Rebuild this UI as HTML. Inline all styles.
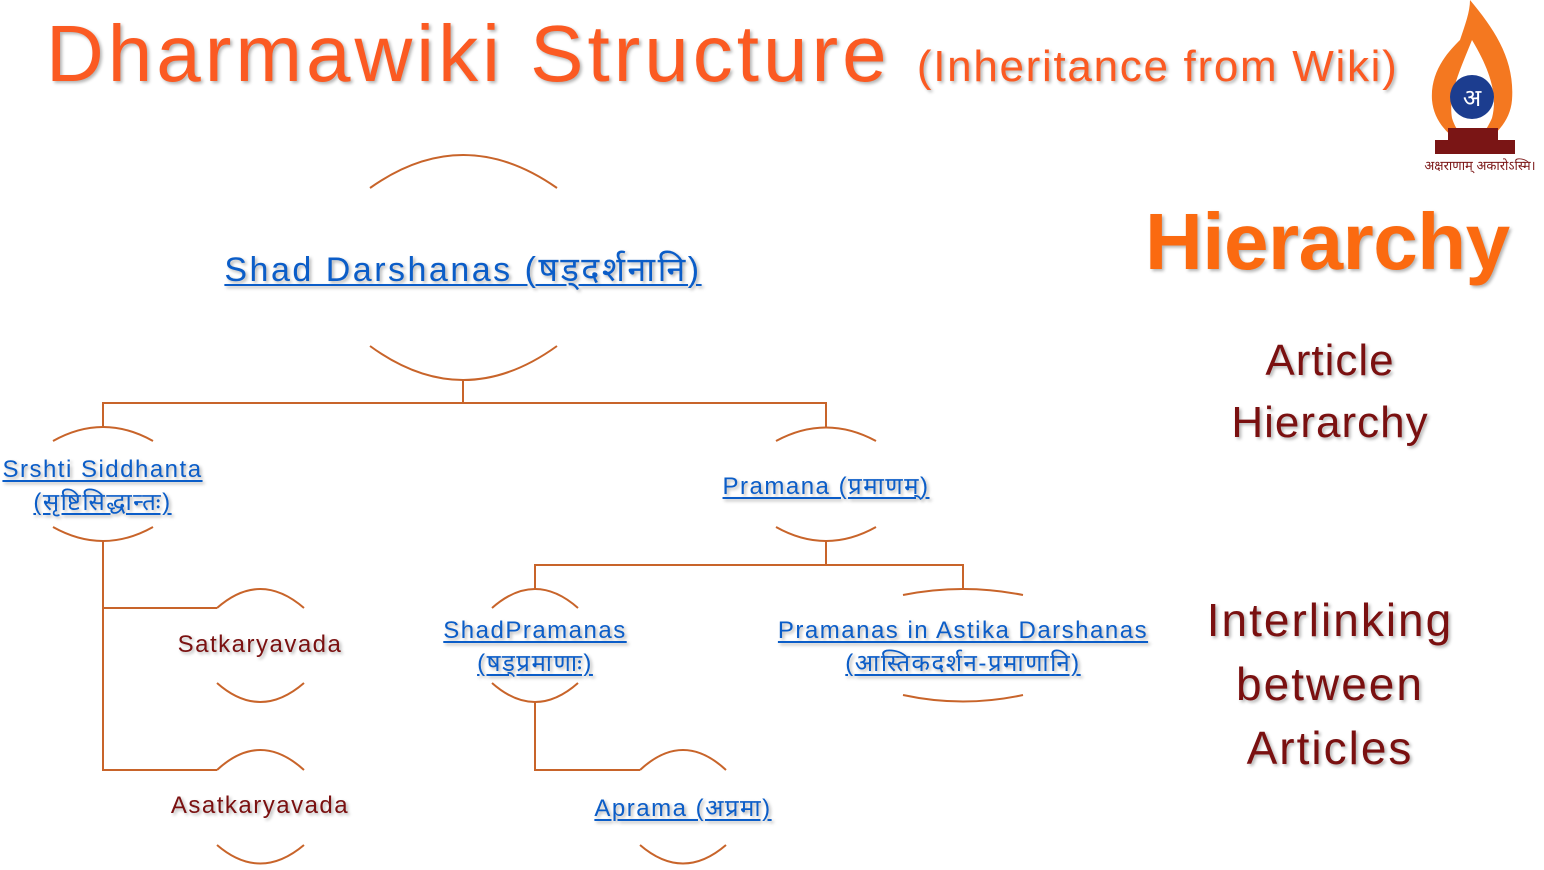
<!DOCTYPE html>
<html><head><meta charset="utf-8"><style>
body{margin:0;width:1544px;height:870px;background:#fff;overflow:hidden;position:relative;font-family:"Liberation Sans","Noto Sans CJK SC",sans-serif}
.t{position:absolute;white-space:nowrap;text-shadow:2px 2px 3px rgba(0,0,0,0.3)}
.l{color:#0b5dc8;text-decoration:underline;text-decoration-thickness:2px;text-underline-offset:3px;font-size:24px;text-align:center;letter-spacing:1.5px}
.r{color:#7a1010;text-align:center}
</style></head><body>
<div class="t" style="left:46px;top:8px;font-size:80px;color:#fb5a22;letter-spacing:4px">Dharmawiki Structure <span style="font-size:44px;letter-spacing:1.7px">(Inheritance from Wiki)</span></div>
<div class="t" style="left:1145px;top:196px;font-size:80px;font-weight:bold;color:#fb6a10;letter-spacing:-0.5px">Hierarchy</div>
<div class="t r" style="left:1200px;top:330px;width:260px;font-size:44px;line-height:62px;letter-spacing:1px">Article<br>Hierarchy</div>
<div class="t r" style="left:1180px;top:588px;width:300px;font-size:46px;line-height:64px;letter-spacing:2px">Interlinking<br>between<br>Articles</div>
<svg style="position:absolute;left:1420px;top:0" width="124" height="180">
<path d="M50 0 C75 30 95 60 92 100 C90 125 70 140 52 150 C34 140 14 125 12 100 C10 70 30 50 40 40 C45 25 50 12 50 0Z" fill="#f47820"/>
<path d="M52 40 C70 70 78 95 72 118 C66 132 58 140 52 144 C46 140 36 132 32 118 C28 95 40 70 52 40Z" fill="#fff"/>
<circle cx="52" cy="97" r="22" fill="#1c3d8f"/>
<text x="52" y="106" fill="#fff" font-size="24" text-anchor="middle" font-family="Noto Sans CJK SC,sans-serif">अ</text>
<rect x="28" y="128" width="50" height="12" fill="#7a1515"/>
<rect x="15" y="140" width="80" height="14" fill="#7a1515"/>
<text x="60" y="170" fill="#7a1515" font-size="13" text-anchor="middle" font-family="sans-serif">अक्षराणाम् अकारोऽस्मि।</text>
</svg>
<svg style="position:absolute;left:0;top:0" width="1544" height="870" fill="none" stroke="#c8642a" stroke-width="2">
<path d="M370 188 Q463 122 557 188"/><path d="M370 346 Q463 414 557 346"/>
<path d="M463 380 V403 M103 428 V403 H826 V428"/>
<path d="M53 441 Q103 413 153 441"/><path d="M53 527 Q103 555 153 527"/>
<path d="M103 541 V770 H217 M103 608 H217"/>
<path d="M217 608 Q260 570 304 608"/><path d="M217 683 Q260 721 304 683"/>
<path d="M217 770 Q260 730 304 770"/><path d="M217 845 Q260 882 304 845"/>
<path d="M776 441 Q826 414 876 441"/><path d="M776 527 Q826 555 876 527"/>
<path d="M826 541 V565 M535 589 V565 H963 V589"/>
<path d="M492 608 Q535 570 578 608"/><path d="M492 683 Q535 721 578 683"/>
<path d="M535 702 V770 H640"/>
<path d="M640 770 Q683 730 726 770"/><path d="M640 845 Q683 882 726 845"/>
<path d="M903 595 Q963 583 1023 595"/><path d="M903 695 Q963 708 1023 695"/>
</svg>
<div class="t l" style="left:163px;top:245px;width:600px;font-size:34px;letter-spacing:2.5px">Shad Darshanas (षड्दर्शनानि)</div>
<div class="t l" style="left:-20px;top:453px;width:245px;line-height:33px">Srshti Siddhanta<br>(सृष्टिसिद्धान्तः)</div>
<div class="t l" style="left:676px;top:469px;width:300px">Pramana (प्रमाणम्)</div>
<div class="t r" style="left:160px;top:631px;width:200px;font-size:24px;letter-spacing:1.5px">Satkaryavada</div>
<div class="t r" style="left:160px;top:792px;width:200px;font-size:24px;letter-spacing:1.5px">Asatkaryavada</div>
<div class="t l" style="left:415px;top:614px;width:240px;line-height:33px">ShadPramanas<br>(षड्प्रमाणाः)</div>
<div class="t l" style="left:753px;top:614px;width:420px;line-height:33px">Pramanas in Astika Darshanas<br>(आस्तिकदर्शन-प्रमाणानि)</div>
<div class="t l" style="left:563px;top:791px;width:240px">Aprama (अप्रमा)</div>
</body></html>
